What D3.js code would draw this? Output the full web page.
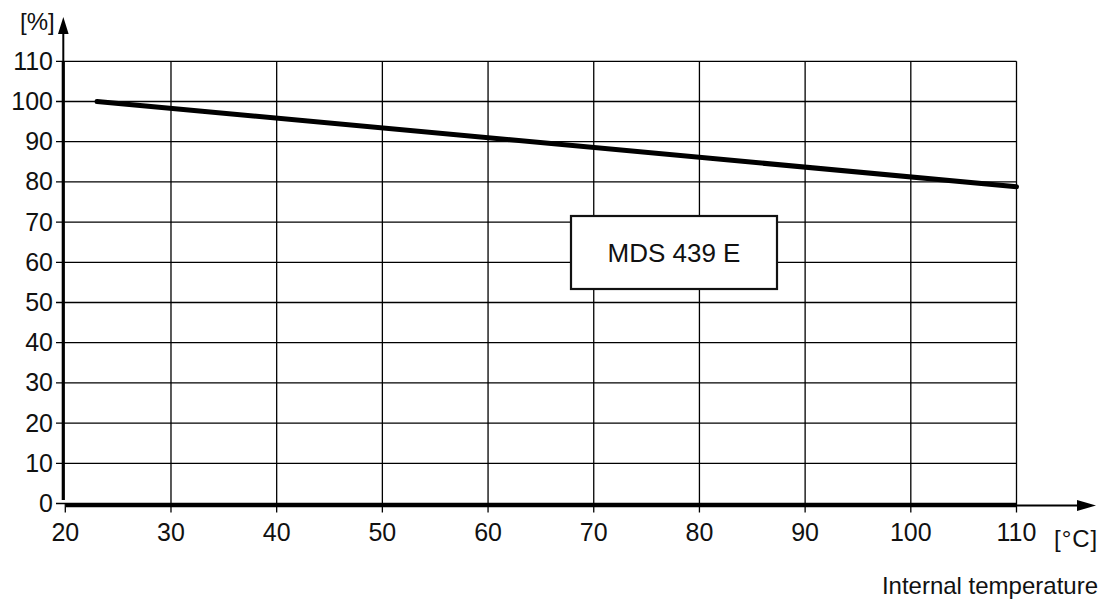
<!DOCTYPE html>
<html lang="en">
<head>
  <meta charset="UTF-8">
  <title>Derating</title>
  <script src="https://d3js.org/d3.v7.min.js"></script>
  <style>
    body { margin: 0; background: #fff; }
    text { font-family: "Liberation Sans", Arial, sans-serif; fill: #111; }
  </style>
</head>
<body>
  <script>
    // data
    const temps = [23, 110];
    const percent = [100, 78.8];
    const xTicks = [20, 30, 40, 50, 60, 70, 80, 90, 100, 110];
    const yTicks = [0, 10, 20, 30, 40, 50, 60, 70, 80, 90, 100, 110];
    const boxLabel = "MDS 439 E";

    const width = 1109, height = 603;

    let svg = d3.select("body")
      .append("svg")
      .attr("width", width)
      .attr("height", height);

    const x = d3.scaleLinear().domain([20, 110]).range([65.3, 1016.5]);
    const y = d3.scaleLinear().domain([0, 110]).range([503.5, 61.3]);

    // grid
    svg.append("g").selectAll("line.v")
      .data(xTicks.slice(1))
      .enter().append("line")
      .attr("x1", d => x(d)).attr("x2", d => x(d))
      .attr("y1", y(110)).attr("y2", y(0) + 9)
      .attr("stroke", "#000").attr("stroke-width", 1.3);

    svg.append("g").selectAll("line.h")
      .data(yTicks)
      .enter().append("line")
      .attr("x1", 56).attr("x2", x(110))
      .attr("y1", d => y(d)).attr("y2", d => y(d))
      .attr("stroke", "#000").attr("stroke-width", 1.3);

    // x tick at 20
    svg.append("line")
      .attr("x1", x(20)).attr("x2", x(20))
      .attr("y1", y(0)).attr("y2", y(0) + 9)
      .attr("stroke", "#000").attr("stroke-width", 1.3);

    // axes
    svg.append("line")
      .attr("x1", 63.3).attr("x2", 63.3)
      .attr("y1", 500).attr("y2", y(110))
      .attr("stroke", "#000").attr("stroke-width", 3.2);
    svg.append("line")
      .attr("x1", 63.3).attr("x2", 63.3)
      .attr("y1", y(110)).attr("y2", 30)
      .attr("stroke", "#000").attr("stroke-width", 2);
    svg.append("path")
      .attr("d", "M63.3,17 L58,34 L68.6,34 Z")
      .attr("fill", "#000");

    svg.append("line")
      .attr("x1", 66).attr("x2", x(110))
      .attr("y1", 505.5).attr("y2", 505.5)
      .attr("stroke", "#000").attr("stroke-width", 3.6);
    svg.append("line")
      .attr("x1", x(110)).attr("x2", 1082)
      .attr("y1", 505.5).attr("y2", 505.5)
      .attr("stroke", "#000").attr("stroke-width", 2);
    svg.append("path")
      .attr("d", "M1096,505.5 L1077,500 L1077,511 Z")
      .attr("fill", "#000");

    // tick labels
    svg.append("g").selectAll("text")
      .data(yTicks)
      .enter().append("text")
      .attr("x", 53).attr("y", d => y(d) + 8.5)
      .attr("text-anchor", "end")
      .attr("font-size", 25)
      .text(d => d);

    svg.append("g").selectAll("text")
      .data(xTicks)
      .enter().append("text")
      .attr("x", d => x(d)).attr("y", 541)
      .attr("text-anchor", "middle")
      .attr("font-size", 25)
      .text(d => d);

    svg.append("text").attr("x", 20).attr("y", 30)
      .attr("font-size", 24).text("[%]");
    svg.append("text").attr("x", 1054).attr("y", 547)
      .attr("font-size", 24)
      .attr("letter-spacing", 1)
      .text("[°C]");
    svg.append("text").attr("x", 1098).attr("y", 594)
      .attr("text-anchor", "end")
      .attr("font-size", 24).text("Internal temperature");

    // curve
    const line = d3.line().x(d => x(d[0])).y(d => y(d[1]));
    svg.append("path")
      .datum(temps.map((t, i) => [t, percent[i]]))
      .attr("d", line)
      .attr("fill", "none")
      .attr("stroke", "#000")
      .attr("stroke-width", 5)
      .attr("stroke-linecap", "round");

    // label box
    svg.append("rect")
      .attr("x", 571).attr("y", 216)
      .attr("width", 206).attr("height", 73)
      .attr("fill", "#fff")
      .attr("stroke", "#111").attr("stroke-width", 2.2);
    svg.append("text")
      .attr("x", 674).attr("y", 262)
      .attr("text-anchor", "middle")
      .attr("font-size", 26)
      .text(boxLabel);
  </script>
</body>
</html>
